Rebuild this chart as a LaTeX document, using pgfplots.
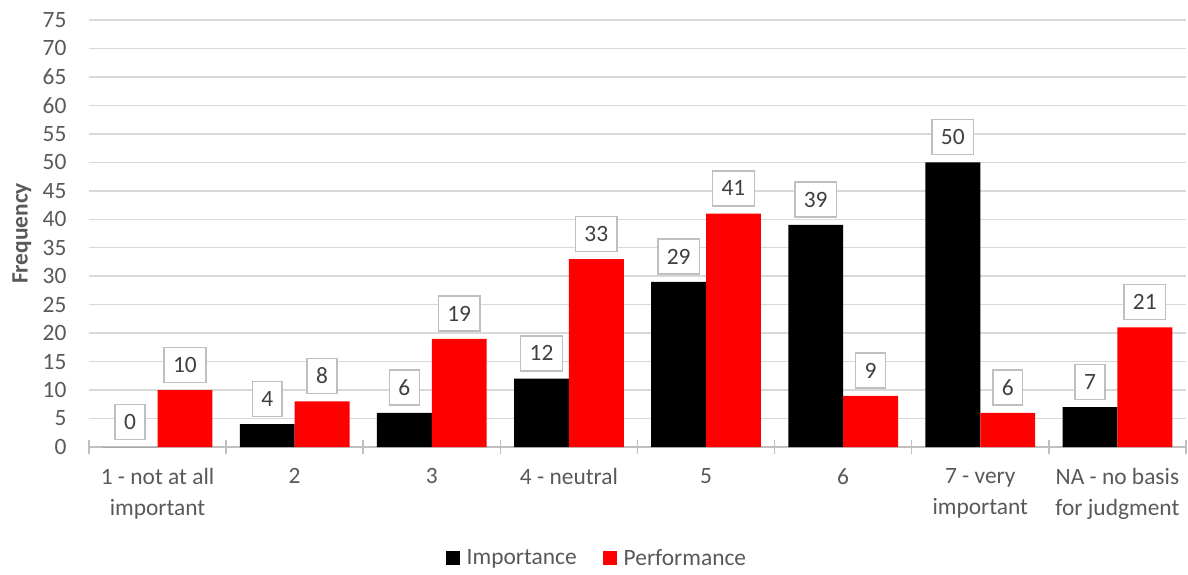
\documentclass[border=0pt]{standalone}
\usepackage{pgfplots}
\pgfplotsset{compat=1.18}
\usepackage{fontspec}
\setmainfont{Carlito}
\definecolor{txt}{HTML}{595959}
\definecolor{lbl}{HTML}{404040}
\definecolor{gridc}{HTML}{D9D9D9}
\definecolor{axc}{HTML}{BFBFBF}
\definecolor{boxc}{HTML}{BFBFBF}
\definecolor{myred}{HTML}{FF0000}
\begin{document}
\begin{tikzpicture}
\useasboundingbox (-89bp,-128bp) rectangle (1099bp,447bp);
\begin{axis}[
  at={(0,0)}, anchor=south west,
  scale only axis,
  width=1097bp, height=427bp,
  xmin=-0.5, xmax=7.5,
  ymin=0, ymax=75,
  ybar=0pt, bar width=0.4,
  axis x line*=bottom, axis y line*=left,
  y axis line style={draw=none},
  x axis line style={draw=axc, line width=1.5bp},
  ytick={0,5,...,75},
  ytick style={draw=none},
  ymajorgrids,
  grid style={draw=gridc, line width=1.5bp},
  yticklabel style={font=\fontsize{23.5}{28}\selectfont, text=txt, xshift=-12bp},
  /pgf/number format/assume math mode=true,
  xtick={-0.5,0.5,...,7.5},
  xticklabels={},
  xtick style={draw=axc, line width=1.5bp},
  major tick length=14bp,
  tick align=center,
  extra x ticks={0,1,2,3,4,5,6,7},
  extra x tick labels={1 - not at all\\important, 2, 3, 4 - neutral, 5, 6, 7 - very\\important, NA - no basis\\for judgment},
  extra x tick style={major tick length=0pt, grid=none,
    xticklabel style={align=center, font=\fontsize{23.5}{31}\selectfont, text=txt, yshift=-18bp}},
  ylabel={\textbf{Frequency}},
  ylabel style={at={(axis description cs:0,0.5)}, anchor=center, yshift=67bp, font=\fontsize{23.5}{28}\selectfont, text=txt},
  nodes near coords,
  every node near coord/.append style={font=\fontsize{23.5}{28}\selectfont, text=lbl, draw=boxc, line width=1.5bp, fill=white,
    inner xsep=9bp, inner ysep=10bp, text height=15bp, text depth=0pt, anchor=south, yshift=7bp},
  legend style={at={(0.463,-0.26)}, anchor=center, draw=none, font=\fontsize{23.5}{28}\selectfont, text=txt,
    legend columns=2, /tikz/every even column/.append style={column sep=24bp},
    /tikz/every odd column/.append style={column sep=5bp}},
  legend image code/.code={\path[#1] (0bp,-7bp) rectangle (14bp,7bp);},
]
\addplot[fill=black, draw=none] coordinates {(0,0) (1,4) (2,6) (3,12) (4,29) (5,39) (6,50) (7,7)};
\addplot[fill=myred, draw=none] coordinates {(0,10) (1,8) (2,19) (3,33) (4,41) (5,9) (6,6) (7,21)};
\legend{Importance, Performance}
\end{axis}
\end{tikzpicture}
\end{document}
